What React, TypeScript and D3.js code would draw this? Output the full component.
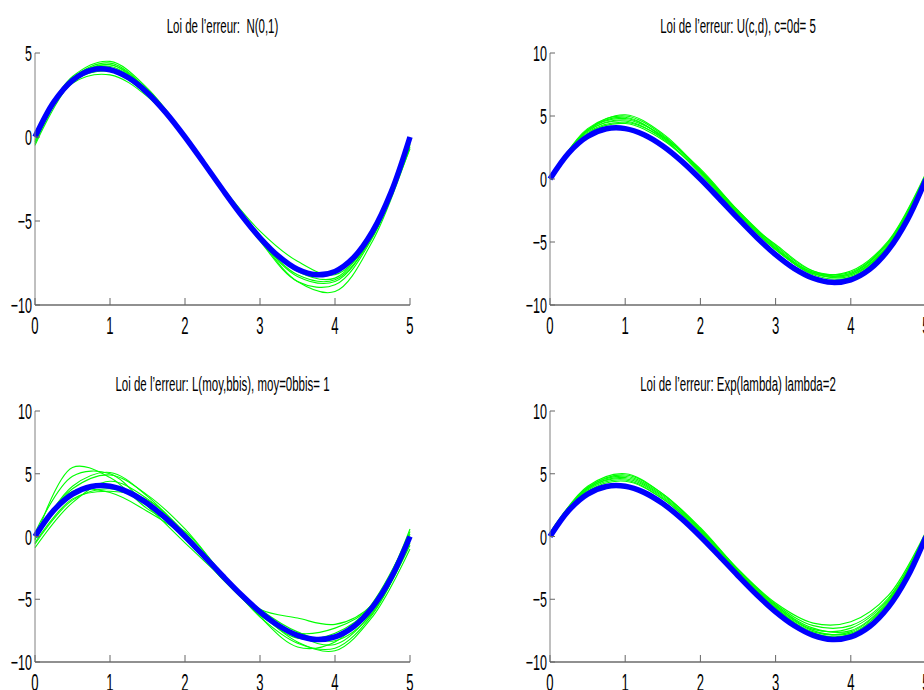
import React from 'react';
import * as d3 from 'd3';

// x positions of the reference (blue) curve and of the estimated (green) curves
const XB = [0, 0.25, 0.5, 0.75, 1, 1.25, 1.5, 1.75, 2, 2.25, 2.5, 2.75, 3, 3.25, 3.5, 3.75, 4, 4.25, 4.5, 4.75, 5];
const TRUE_F = [0, 2.078, 3.375, 3.984, 4, 3.516, 2.625, 1.422, 0, -1.547, -3.125, -4.641, -6, -7.109, -7.875, -8.203, -8, -7.172, -5.625, -3.266, 0];
const XG = [0, 0.5, 1, 1.5, 2, 2.5, 3, 3.5, 4, 4.5, 5];

const GREEN_N = [
  [-0.4, 3.5, 4.4, 2.8, 0.0, -3.1, -6.1, -8.3, -8.6, -5.9, -0.5],
  [0.1, 3.2, 3.7, 2.4, -0.1, -3.2, -6.1, -8.6, -9.2, -6.2, -0.6],
  [-0.2, 3.5, 4.3, 2.7, 0.1, -3.0, -5.6, -7.4, -8.2, -5.9, -0.2],
  [0.0, 3.4, 4.2, 2.7, 0.0, -3.2, -6.2, -8.6, -8.8, -6.0, -0.4],
  [-0.5, 3.3, 4.3, 2.8, 0.1, -3.1, -6.0, -8.0, -8.4, -5.7, -0.7],
  [0.0, 3.3, 3.9, 2.5, -0.1, -3.2, -6.0, -7.8, -8.1, -5.7, 0.0],
  [-0.3, 3.4, 4.1, 2.6, 0.0, -3.2, -6.1, -8.2, -8.5, -5.9, -0.3],
  [0.2, 3.6, 4.5, 2.9, 0.1, -3.1, -5.9, -7.9, -8.1, -5.6, -0.1],
];
const GREEN_U = [
  [0, 3.9, 4.8, 3.4, 0.7, -2.6, -5.5, -7.4, -7.5, -5.0, 0.4],
  [0, 3.8, 4.6, 3.2, 0.5, -2.8, -5.6, -7.5, -7.6, -5.2, 0.3],
  [0, 4.0, 5.0, 3.5, 0.6, -2.7, -5.6, -7.5, -7.7, -5.3, 0.0],
  [0, 3.7, 4.5, 3.3, 0.8, -2.5, -5.3, -7.3, -7.4, -5.0, 0.2],
  [0, 3.9, 4.9, 3.3, 0.4, -2.8, -5.2, -7.3, -7.6, -5.3, 0.1],
  [0, 3.8, 4.7, 3.4, 0.6, -2.6, -5.5, -7.6, -7.8, -5.4, 0.0],
  [0, 3.6, 4.4, 3.1, 0.5, -2.7, -5.6, -7.5, -7.5, -5.1, 0.3],
  [0, 3.9, 5.1, 3.6, 0.7, -2.5, -5.4, -7.4, -7.3, -4.9, 0.5],
];
const GREEN_L = [
  [-0.9, 2.7, 4.4, 3.0, 0.3, -3.2, -6.1, -8.4, -9.1, -6.4, -1.0],
  [0.3, 4.8, 5.0, 2.4, -0.5, -3.3, -5.8, -6.5, -7.0, -5.4, 0.6],
  [-0.3, 5.5, 4.7, 2.2, 0.4, -3.0, -6.4, -8.8, -8.4, -5.3, 0.2],
  [-0.5, 3.0, 3.6, 2.9, 0.2, -3.4, -5.9, -7.9, -8.6, -6.0, -0.7],
  [0.1, 3.8, 4.9, 3.3, 0.6, -3.0, -6.3, -7.7, -7.3, -5.5, 0.4],
  [-0.6, 2.9, 3.8, 2.6, 0.1, -3.1, -6.4, -8.5, -8.9, -6.2, -0.5],
  [0.0, 3.6, 3.5, 2.0, 0.0, -3.4, -6.2, -8.1, -7.7, -5.5, 0.0],
  [-0.2, 4.0, 5.1, 3.2, 0.2, -3.2, -5.8, -7.6, -8.3, -6.1, -0.3],
];
const GREEN_E = [
  [0.3, 3.9, 4.8, 3.3, 0.6, -2.6, -5.4, -7.1, -7.1, -4.9, 0.2],
  [0.0, 3.7, 4.5, 3.0, 0.3, -2.9, -5.7, -7.6, -7.6, -5.2, 0.1],
  [0.2, 3.9, 4.9, 3.4, 0.6, -2.7, -5.5, -7.3, -7.5, -5.1, 0.3],
  [0.1, 3.6, 4.4, 3.0, 0.4, -2.8, -5.7, -7.7, -7.8, -5.3, 0.0],
  [0.3, 4.0, 5.0, 3.4, 0.7, -2.6, -5.3, -6.9, -6.8, -4.7, 0.4],
  [0.1, 3.8, 4.6, 3.1, 0.5, -2.8, -5.6, -7.5, -7.7, -5.3, 0.2],
  [0.2, 3.8, 4.7, 3.2, 0.5, -2.7, -5.5, -7.4, -7.3, -5.0, 0.3],
];

const TITLES = [
  "Loi de l\u2019erreur:  N(0,1)",
  "Loi de l\u2019erreur: U(c,d), c=0d= 5",
  "Loi de l\u2019erreur: L(moy,bbis), moy=0bbis= 1",
  "Loi de l\u2019erreur: Exp(lambda) lambda=2",
];
const X_TICKS = [0, 1, 2, 3, 4, 5];
const Y_TICKS_A = [-10, -5, 0, 5];
const Y_TICKS_B = [-10, -5, 0, 5, 10];

const PANELS = [
  { title: TITLES[0], greens: GREEN_N, yDomain: [-10, 5], yTicks: Y_TICKS_A, left: 35, right: 410, top: 53, bottom: 305, titleY: 33 },
  { title: TITLES[1], greens: GREEN_U, yDomain: [-10, 10], yTicks: Y_TICKS_B, left: 550, right: 926, top: 53, bottom: 305, titleY: 33 },
  { title: TITLES[2], greens: GREEN_L, yDomain: [-10, 10], yTicks: Y_TICKS_B, left: 35, right: 410, top: 411, bottom: 662, titleY: 391 },
  { title: TITLES[3], greens: GREEN_E, yDomain: [-10, 10], yTicks: Y_TICKS_B, left: 550, right: 926, top: 411, bottom: 662, titleY: 391 },
];

const FONT = "'Liberation Sans', Arial, Helvetica, sans-serif";
const TICK_SX = 0.57;
const TITLE_SX = 0.56;

function Panel({ p }: { p: any }) {
  const x = d3.scaleLinear().domain([0, 5]).range([p.left, p.right]);
  const y = d3.scaleLinear().domain(p.yDomain).range([p.bottom, p.top]);
  const lineG = d3.line<number>().x((_, i) => x(XG[i])).y((d) => y(d)).curve(d3.curveCatmullRom);
  const lineB = d3.line<number>().x((_, i) => x(XB[i])).y((d) => y(d)).curve(d3.curveCatmullRom);
  const cx = (p.left + p.right) / 2;
  return (
    <g>
      <text
        transform={`translate(${cx},${p.titleY}) scale(${TITLE_SX},1)`}
        textAnchor="middle"
        fontFamily={FONT}
        fontSize={20.5}
        fill="#000"
        style={{ whiteSpace: 'pre' }}
      >
        {p.title}
      </text>
      {p.greens.map((g: number[], i: number) => (
        <path key={i} d={lineG(g) || ''} fill="none" stroke="#00ff00" strokeWidth={1.1} />
      ))}
      <path d={lineB(TRUE_F) || ''} fill="none" stroke="#0000ff" strokeWidth={5.5} strokeLinejoin="round" />
      {/* axes */}
      <line x1={p.left} x2={p.left} y1={p.top} y2={p.bottom} stroke="#808080" strokeWidth={1} />
      <line x1={p.left} x2={p.right} y1={p.bottom} y2={p.bottom} stroke="#222" strokeWidth={1.2} />
      {X_TICKS.map((t) => (
        <g key={'x' + t}>
          <line x1={x(t)} x2={x(t)} y1={p.bottom} y2={p.bottom - 7} stroke="#666" strokeWidth={1} />
          <text
            transform={`translate(${x(t)},${p.bottom + 29}) scale(${TICK_SX},1)`}
            textAnchor="middle"
            fontFamily={FONT}
            fontSize={23}
            fill="#000"
          >
            {t}
          </text>
        </g>
      ))}
      {p.yTicks.map((t: number) => (
        <g key={'y' + t}>
          <line x1={p.left} x2={p.left + 5} y1={y(t)} y2={y(t)} stroke="#666" strokeWidth={1} />
          <text
            transform={`translate(${p.left - 3},${y(t) + 8}) scale(${TICK_SX},1)`}
            textAnchor="end"
            fontFamily={FONT}
            fontSize={22}
            fill="#000"
          >
            {t < 0 ? '\u2212' + Math.abs(t) : String(t)}
          </text>
        </g>
      ))}
    </g>
  );
}

export default function App() {
  return (
    <svg
      width={924}
      height={690}
      style={{ position: 'absolute', left: 0, top: 0, background: '#fff', display: 'block' }}
    >
      <rect x={0} y={0} width={924} height={690} fill="#fff" />
      {PANELS.map((p, i) => (
        <Panel key={i} p={p} />
      ))}
    </svg>
  );
}
